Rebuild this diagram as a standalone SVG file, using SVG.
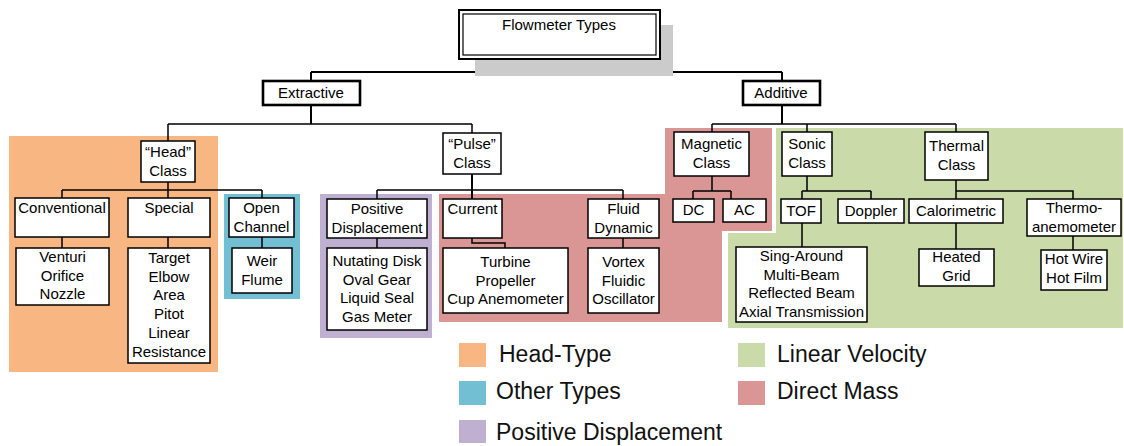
<svg xmlns="http://www.w3.org/2000/svg" width="1124" height="446" viewBox="0 0 1124 446">
  <style>
    .box { fill: #ffffff; stroke: #000000; stroke-width: 1.5; }
    .lbl { font-family: "Liberation Sans", Arial, sans-serif; font-size: 15px; fill: #000000; text-anchor: middle; }
    .leg { font-family: "Liberation Sans", Arial, sans-serif; font-size: 23px; fill: #111111; }
    .wire { fill: none; stroke: #000000; stroke-width: 1.5; }
    .trunk { fill: none; stroke: #000000; stroke-width: 2; }
  </style>

  <!-- category backgrounds -->
  <g id="zones">
    <rect x="9" y="136" width="209" height="236" fill="#F8B682"/>
    <rect x="224" y="194" width="76" height="105" fill="#72BFD3"/>
    <rect x="320" y="194" width="112" height="144" fill="#BFB0D2"/>
    <polygon points="439,194 665,194 665,128 772,128 772,231 722,231 722,322 439,322" fill="#D99694"/>
    <polygon points="776,128 1123,128 1123,328 728,328 728,233 776,233" fill="#CBDAA9"/>
  </g>

  <!-- connectors -->
  <g id="connectors">
    <path class="trunk" d="M558,59 V72 M311,72 H782 M311,72 V81 M782,72 V81"/>
    <path class="trunk" d="M311,105 V124 M782,105 V124"/>
    <path class="wire" d="M168,124 H472 M168,124 V141 M472,124 V133"/>
    <path class="wire" d="M712,124 H956 M712,124 V132 M807,124 V132 M956,124 V132"/>
    <!-- head class -->
    <path class="wire" d="M168,182 V190 M62,190 H262 M62,190 V198 M168,190 V198 M262,190 V198"/>
    <path class="wire" d="M62,237 V248 M168,237 V248 M262,237 V248"/>
    <!-- pulse class -->
    <path class="trunk" d="M472,174 V199"/>
    <path class="wire" d="M377,190 H623 M377,190 V199 M623,190 V199"/>
    <path class="wire" d="M377,238 V248 M472,238 V243 H505 V248 M623,238 V248"/>
    <!-- magnetic class -->
    <path class="wire" d="M712,176 V191 M693,191 H731 M693,191 V199 M731,191 V199"/>
    <!-- sonic class -->
    <path class="wire" d="M807,176 V191 M802,191 H871 M802,191 V199 M871,191 V199 M802,223 V247"/>
    <!-- thermal class -->
    <path class="wire" d="M956,180 V191 H1073 V199 M956,191 V199 M956,223 V249 M1073,236 V250"/>
  </g>

  <!-- root -->
  <g id="root">
    <rect x="475" y="25" width="198" height="51" fill="#CBCBCB"/>
    <rect x="459" y="10" width="201" height="49" fill="#ffffff" stroke="#000" stroke-width="2"/>
    <rect x="463" y="14" width="193" height="41" fill="none" stroke="#000" stroke-width="1.2"/>
    <text class="lbl" x="559" y="30">Flowmeter Types</text>
  </g>

  <g id="extractive">
    <rect x="263" y="81" width="97" height="24" fill="#fff" stroke="#000" stroke-width="2.6"/>
    <text class="lbl" x="311" y="98">Extractive</text>
  </g>
  <g id="additive">
    <rect x="743" y="81" width="77" height="24" fill="#fff" stroke="#000" stroke-width="2.6"/>
    <text class="lbl" x="781" y="98">Additive</text>
  </g>

  <!-- head branch -->
  <g id="head-class">
    <rect class="box" x="141" y="141" width="54" height="41"/>
    <text class="lbl" x="168" y="157">“Head”<tspan x="168" dy="18.5">Class</tspan></text>
  </g>
  <g id="conventional">
    <rect class="box" x="15" y="198" width="94" height="39"/>
    <text class="lbl" x="62" y="213">Conventional</text>
  </g>
  <g id="special">
    <rect class="box" x="128" y="198" width="82" height="39"/>
    <text class="lbl" x="169" y="213">Special</text>
  </g>
  <g id="open-channel">
    <rect class="box" x="229" y="198" width="65" height="39"/>
    <text class="lbl" x="261.5" y="213">Open<tspan x="261.5" dy="18.7">Channel</tspan></text>
  </g>
  <g id="venturi">
    <rect class="box" x="16" y="248" width="93" height="57"/>
    <text class="lbl" x="62.5" y="262">Venturi<tspan x="62.5" dy="18.7">Orifice</tspan><tspan x="62.5" dy="18.7">Nozzle</tspan></text>
  </g>
  <g id="target">
    <rect class="box" x="128" y="248" width="82" height="115"/>
    <text class="lbl" x="169" y="263">Target<tspan x="169" dy="18.7">Elbow</tspan><tspan x="169" dy="18.7">Area</tspan><tspan x="169" dy="18.7">Pitot</tspan><tspan x="169" dy="18.7">Linear</tspan><tspan x="169" dy="18.7">Resistance</tspan></text>
  </g>
  <g id="weir">
    <rect class="box" x="232" y="248" width="60" height="45"/>
    <text class="lbl" x="262" y="266">Weir<tspan x="262" dy="18.7">Flume</tspan></text>
  </g>

  <!-- pulse branch -->
  <g id="pulse-class">
    <rect class="box" x="443" y="133" width="58" height="41"/>
    <text class="lbl" x="472" y="149">“Pulse”<tspan x="472" dy="18.5">Class</tspan></text>
  </g>
  <g id="positive-displacement">
    <rect class="box" x="327" y="199" width="100" height="39"/>
    <text class="lbl" x="377" y="214">Positive<tspan x="377" dy="18.7">Displacement</tspan></text>
  </g>
  <g id="nutating">
    <rect class="box" x="327" y="248" width="100" height="82"/>
    <text class="lbl" x="377" y="266">Nutating Disk<tspan x="377" dy="18.7">Oval Gear</tspan><tspan x="377" dy="18.7">Liquid Seal</tspan><tspan x="377" dy="18.7">Gas Meter</tspan></text>
  </g>
  <g id="current">
    <rect class="box" x="443" y="199" width="59" height="39"/>
    <text class="lbl" x="472.5" y="214">Current</text>
  </g>
  <g id="turbine">
    <rect class="box" x="443" y="248" width="125" height="65"/>
    <text class="lbl" x="505.5" y="267">Turbine<tspan x="505.5" dy="18.7">Propeller</tspan><tspan x="505.5" dy="18.7">Cup Anemometer</tspan></text>
  </g>
  <g id="fluid-dynamic">
    <rect class="box" x="588" y="199" width="71" height="39"/>
    <text class="lbl" x="623.5" y="214">Fluid<tspan x="623.5" dy="18.7">Dynamic</tspan></text>
  </g>
  <g id="vortex">
    <rect class="box" x="588" y="248" width="71" height="65"/>
    <text class="lbl" x="623.5" y="267">Vortex<tspan x="623.5" dy="18.7">Fluidic</tspan><tspan x="623.5" dy="18.7">Oscillator</tspan></text>
  </g>

  <!-- magnetic branch -->
  <g id="magnetic-class">
    <rect class="box" x="674" y="132" width="75" height="44"/>
    <text class="lbl" x="711.5" y="149">Magnetic<tspan x="711.5" dy="18.7">Class</tspan></text>
  </g>
  <g id="dc">
    <rect class="box" x="673" y="199" width="41" height="23"/>
    <text class="lbl" x="693.5" y="215">DC</text>
  </g>
  <g id="ac">
    <rect class="box" x="723" y="199" width="43" height="23"/>
    <text class="lbl" x="744.5" y="215">AC</text>
  </g>

  <!-- sonic branch -->
  <g id="sonic-class">
    <rect class="box" x="782" y="132" width="50" height="44"/>
    <text class="lbl" x="807" y="149">Sonic<tspan x="807" dy="18.7">Class</tspan></text>
  </g>
  <g id="tof">
    <rect class="box" x="781" y="199" width="40" height="24"/>
    <text class="lbl" x="801" y="216">TOF</text>
  </g>
  <g id="doppler">
    <rect class="box" x="838" y="199" width="66" height="24"/>
    <text class="lbl" x="871" y="216">Doppler</text>
  </g>
  <g id="sing-around">
    <rect class="box" x="736" y="247" width="131" height="75"/>
    <text class="lbl" x="801.5" y="261">Sing-Around<tspan x="801.5" dy="18.7">Multi-Beam</tspan><tspan x="801.5" dy="18.7">Reflected Beam</tspan><tspan x="801.5" dy="18.7">Axial Transmission</tspan></text>
  </g>

  <!-- thermal branch -->
  <g id="thermal-class">
    <rect class="box" x="925" y="132" width="63" height="48"/>
    <text class="lbl" x="956.5" y="151">Thermal<tspan x="956.5" dy="18.7">Class</tspan></text>
  </g>
  <g id="calorimetric">
    <rect class="box" x="909" y="199" width="94" height="24"/>
    <text class="lbl" x="956" y="216">Calorimetric</text>
  </g>
  <g id="heated-grid">
    <rect class="box" x="919" y="249" width="75" height="37"/>
    <text class="lbl" x="956.5" y="262">Heated<tspan x="956.5" dy="18.7">Grid</tspan></text>
  </g>
  <g id="thermo-anemometer">
    <rect class="box" x="1027" y="199" width="94" height="37"/>
    <text class="lbl" x="1074" y="213">Thermo-<tspan x="1074" dy="18.7">anemometer</tspan></text>
  </g>
  <g id="hot-wire">
    <rect class="box" x="1041" y="250" width="66" height="40"/>
    <text class="lbl" x="1074" y="264">Hot Wire<tspan x="1074" dy="18.7">Hot Film</tspan></text>
  </g>

  <!-- legend -->
  <g id="legend">
    <rect x="459" y="343" width="27" height="24" fill="#F8B682"/>
    <text class="leg" x="499" y="362">Head-Type</text>
    <rect x="459" y="381" width="27" height="24" fill="#72BFD3"/>
    <text class="leg" x="496" y="399">Other Types</text>
    <rect x="459" y="420" width="27" height="23" fill="#BFB0D2"/>
    <text class="leg" x="496" y="440">Positive Displacement</text>
    <rect x="738" y="343" width="27" height="24" fill="#CBDAA9"/>
    <text class="leg" x="777" y="362">Linear Velocity</text>
    <rect x="738" y="381" width="27" height="24" fill="#D99694"/>
    <text class="leg" x="777" y="399">Direct Mass</text>
  </g>
</svg>
